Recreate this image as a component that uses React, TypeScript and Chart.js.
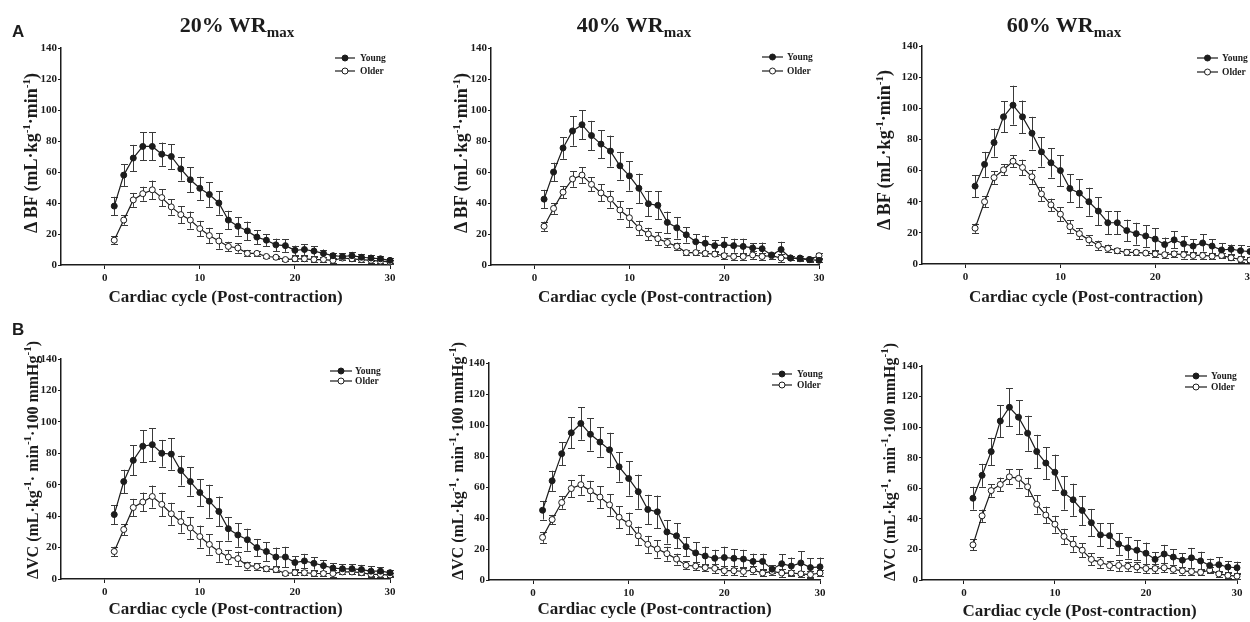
import React, { useEffect, useRef } from "react";
import { Chart, registerables } from "chart.js";

Chart.register(...registerables);

const SERIF = "'Liberation Serif', 'Times New Roman', 'DejaVu Serif', serif";
const SANS = "'Liberation Sans', Arial, 'DejaVu Sans', sans-serif";
const INK = "#1c1c1c";
const ERR_INK = "#3a3a3a";

// ---------------- data ----------------
const cycles = [1, 2, 3, 4, 5, 6, 7, 8, 9, 10, 11, 12, 13, 14, 15, 16, 17, 18, 19, 20, 21, 22, 23, 24, 25, 26, 27, 28, 29, 30];
const xTickValues = [0, 10, 20, 30];
const yTickValues = [0, 20, 40, 60, 80, 100, 120, 140];
const seriesLabels = ["Young", "Older"];
const intensityLabels = ["20%", "40%", "60%"];
const panelLetters = ["A", "B"];
const xAxisTitle = "Cardiac cycle (Post-contraction)";

// Row A: Δ blood flow
const bf20Young = [38, 58, 69, 76.5, 76.5, 71.5, 70, 62, 55, 49.5, 45.5, 40, 29, 25, 22, 18, 16, 13, 12.5, 9.5, 10, 9, 7.5, 6, 5.5, 6, 5, 4.5, 4, 3];
const bf20YoungErr = [6, 7, 8.5, 9, 9, 7.5, 8, 7.5, 8, 7.5, 8, 7.5, 6, 6, 6, 4.5, 4, 4, 4, 3, 3.5, 3, 2.5, 2, 2, 2.5, 2, 2, 1.5, 1.5];
const bf20Older = [16, 29, 42, 46, 48.5, 43.5, 37.5, 32.5, 29, 23.5, 19, 15.5, 12, 11, 7.5, 7.5, 5.5, 5, 3.5, 4, 4, 3.5, 3.5, 3, 4.5, 4, 3.5, 3, 2.5, 2];
const bf20OlderErr = [2.5, 3, 4.5, 4.5, 6, 5.5, 5, 5.5, 5.5, 5, 5, 5, 3, 3, 2, 1.5, 1, 1, 1, 1.5, 1.5, 1.5, 1.5, 1.5, 1.5, 1.5, 1.5, 1.5, 1.5, 1.5];

const bf40Young = [42.5, 60, 75.5, 86.5, 90.5, 83.5, 78, 73.5, 64, 57.5, 49.5, 39.5, 38.5, 27.5, 24, 19.5, 15, 14, 12.5, 13, 12.5, 12, 11, 10.5, 6.5, 10, 4.5, 4.5, 3.5, 3];
const bf40YoungErr = [6, 6, 7, 9.5, 9.5, 9.5, 9, 10, 9, 9.5, 9.5, 8, 9, 7, 7, 5, 5, 5, 3.5, 5, 4.5, 5, 3, 4, 1, 5, 1.5, 1.5, 1, 1];
const bf40Older = [25, 36.5, 47, 55.5, 58, 52, 46.5, 42.5, 35.5, 30.5, 24, 20, 17, 14.5, 12, 8, 8, 7.5, 7, 6, 5.5, 5.5, 6.5, 5.5, 6, 4.5, 4.5, 4, 3.5, 6];
const bf40OlderErr = [3, 3.5, 4, 5, 5, 4.5, 5.5, 5.5, 5.5, 6, 4.5, 4, 4, 3, 2.5, 1.5, 1.5, 1.5, 1.5, 2, 2, 2, 2.5, 2.5, 2, 2.5, 1.5, 1.5, 1.5, 1.5];

const bf60Young = [50, 64, 78, 94.5, 102, 94.5, 84, 72, 65, 60, 48.5, 45.5, 40, 34, 26.5, 26.5, 21.5, 19.5, 18, 16, 12.5, 15.5, 13, 11.5, 13.5, 11.5, 9, 9.5, 8.5, 8];
const bf60YoungErr = [7, 8, 9, 10, 12.5, 10.5, 10.5, 9.5, 9.5, 10, 9, 9, 9, 9, 7.5, 7.5, 7, 7, 7, 7, 4.5, 5.5, 5, 4.5, 5.5, 4.5, 4.5, 3, 3.5, 3.5];
const bf60Older = [23, 40, 55.5, 60.5, 66, 62, 56, 45, 38, 32, 24, 19.5, 15.5, 12, 10, 8.5, 7.5, 7.5, 7, 6.5, 6, 6.5, 6, 5.5, 5.5, 5, 5.5, 4, 3, 2.5];
const bf60OlderErr = [3, 3.5, 4, 3.5, 4, 5, 4.5, 4.5, 4, 4.5, 4, 3.5, 3, 3, 2.5, 1.5, 2, 1.5, 1.5, 2, 2, 2, 2.5, 2, 2, 1.5, 1.5, 1.5, 1.5, 1.5];

// Row B: Δ vascular conductance
const vc20Young = [41, 62, 75.5, 84.5, 85.5, 80, 79.5, 69, 62, 55, 49.5, 43, 32, 28, 25, 20, 17.5, 14, 14, 10.5, 11.5, 10, 8.5, 7, 6.5, 6.5, 6, 5, 5, 4];
const vc20YoungErr = [6, 7.5, 9.5, 10, 10.5, 8.5, 10, 9.5, 9, 8.5, 10.5, 9.5, 7.5, 7.5, 7, 5.5, 6, 6, 6.5, 4, 4.5, 4, 3.5, 3, 3, 3, 3, 3, 2.5, 2];
const vc20Older = [17.5, 31.5, 45.5, 49, 52.5, 47.5, 41.5, 36.5, 32.5, 27, 22, 17.5, 14, 13, 8.5, 8, 6.5, 6, 3.5, 4, 4, 3.5, 3.5, 3.5, 4.5, 4.5, 4, 3, 3, 2.5];
const vc20OlderErr = [3, 3.5, 5.5, 6, 7, 7.5, 7, 7, 7, 7, 6.5, 6.5, 4.5, 4.5, 2.5, 2, 1.5, 1.5, 1, 1.5, 1.5, 1.5, 1.5, 2, 1.5, 1.5, 1.5, 1.5, 1.5, 1.5];

const vc40Young = [45, 64, 81.5, 95, 101, 94, 89, 84, 73, 65.5, 57, 45.5, 44, 31, 28.5, 21.5, 17.5, 15.5, 14, 14.5, 14, 13.5, 12, 12, 7, 10.5, 9, 11, 8, 8.5];
const vc40YoungErr = [6, 6.5, 7.5, 10, 10.5, 10.5, 9.5, 11, 9.5, 11, 11, 9.5, 10.5, 7.5, 8, 6, 7, 6, 5.5, 7, 6, 6, 5, 5, 2.5, 6, 5.5, 7.5, 6, 6];
const vc40Older = [27.5, 39, 50, 59, 61.5, 57.5, 53.5, 48.5, 40.5, 36.5, 28.5, 23, 20, 17, 13.5, 9.5, 9, 8, 7.5, 6, 6, 5.5, 6.5, 4.5, 5.5, 4.5, 4.5, 4, 3.5, 4.5];
const vc40OlderErr = [3.5, 3, 4, 5.5, 6.5, 6.5, 7, 7, 7, 7, 6, 5.5, 5.5, 4.5, 3.5, 2.5, 2.5, 2.5, 3, 3, 3, 3, 2.5, 2, 2, 2.5, 2, 2, 2, 2];

const vc60Young = [53.5, 68.5, 84, 104, 113, 106.5, 96, 84, 76.5, 70.5, 57, 52.5, 45.5, 37.5, 29.5, 29, 23.5, 21, 19.5, 17.5, 13.5, 17, 15, 13, 14.5, 12.5, 9.5, 10, 8.5, 8];
const vc60YoungErr = [7.5, 7.5, 9, 10.5, 12.5, 11, 11.5, 11, 10.5, 11.5, 11, 10.5, 9.5, 9, 7.5, 8, 7, 7, 6.5, 7, 4.5, 6, 5, 4.5, 6.5, 6, 4.5, 5, 4, 4];
const vc60Older = [23, 42, 58.5, 62.5, 67.5, 66.5, 61, 49.5, 42.5, 36.5, 28.5, 23.5, 19.5, 13.5, 11.5, 9.5, 9.5, 9, 8.5, 7.5, 7.5, 8, 7, 6, 5.5, 5, 6.5, 4, 3, 2.5];
const vc60OlderErr = [3.5, 4, 4, 4.5, 5, 6, 6, 6, 5.5, 5.5, 5, 5, 4.5, 4, 3.5, 3, 3.5, 3, 3, 3, 3, 3, 2.5, 2.5, 2.5, 2, 2, 2, 2, 2];

// ---------------- layout ----------------
type Box = { l: number; t: number; r: number; b: number };
type LegendPos = { x1: number; x2: number; tx: number; y1: number; y2: number };
type PanelSpec = {
  young: number[];
  youngErr: number[];
  older: number[];
  olderErr: number[];
  area: Box;
  legend: LegendPos;
  titleGap: number;
};

const Y_W = 46;
const X_H = 48;
const PAD_T = 10;
const PAD_R = 16;
const X_MIN = -4.6;

const panels: PanelSpec[] = [
  { young: bf20Young, youngErr: bf20YoungErr, older: bf20Older, olderErr: bf20OlderErr,
    area: { l: 61, t: 48, r: 390, b: 265 }, legend: { x1: 55, x2: 35, tx: 30, y1: 10, y2: 23 }, titleGap: 33 },
  { young: bf40Young, youngErr: bf40YoungErr, older: bf40Older, olderErr: bf40OlderErr,
    area: { l: 491, t: 48, r: 819, b: 265 }, legend: { x1: 57, x2: 36, tx: 32, y1: 9, y2: 23 }, titleGap: 33 },
  { young: bf60Young, youngErr: bf60YoungErr, older: bf60Older, olderErr: bf60OlderErr,
    area: { l: 922, t: 46, r: 1250, b: 264 }, legend: { x1: 53, x2: 32, tx: 28, y1: 12, y2: 26 }, titleGap: 34 },
  { young: vc20Young, youngErr: vc20YoungErr, older: vc20Older, olderErr: vc20OlderErr,
    area: { l: 61, t: 359, r: 390, b: 579 }, legend: { x1: 60, x2: 38, tx: 35, y1: 12, y2: 22 }, titleGap: 31 },
  { young: vc40Young, youngErr: vc40YoungErr, older: vc40Older, olderErr: vc40OlderErr,
    area: { l: 489, t: 363, r: 820, b: 580 }, legend: { x1: 48, x2: 28, tx: 23, y1: 11, y2: 22 }, titleGap: 30 },
  { young: vc60Young, youngErr: vc60YoungErr, older: vc60Older, olderErr: vc60OlderErr,
    area: { l: 922, t: 366, r: 1237, b: 580 }, legend: { x1: 52, x2: 30, tx: 26, y1: 10, y2: 21 }, titleGap: 32 },
];

const titleCenters = [237, 634, 1064];
const yTitleCenters = [
  { x: 31, y: 153 }, { x: 461, y: 153 }, { x: 884, y: 150 },
  { x: 33, y: 460 }, { x: 458, y: 461 }, { x: 890, y: 462 },
];

function ChartPanel({ spec }: { spec: PanelSpec }) {
  const ref = useRef<HTMLCanvasElement | null>(null);
  const { area } = spec;
  const width = area.r - area.l + Y_W + PAD_R;
  const height = area.b - area.t + PAD_T + X_H;

  useEffect(() => {
    const canvas = ref.current;
    if (!canvas) return;
    const tickFont = { family: SERIF, size: 11, weight: "bold" as const };

    const errorBars = {
      id: "errorBars",
      beforeDatasetsDraw(chart: any) {
        const { ctx, scales } = chart;
        const xs = scales.x;
        const ys = scales.y;
        ctx.save();
        ctx.strokeStyle = ERR_INK;
        ctx.lineWidth = 1;
        chart.data.datasets.forEach((ds: any) => {
          ds.data.forEach((p: any, j: number) => {
            const e = ds.errors[j];
            const px = Math.round(xs.getPixelForValue(p.x)) + 0.5;
            const top = ys.getPixelForValue(p.y + e);
            const bot = ys.getPixelForValue(p.y - e);
            ctx.beginPath();
            ctx.moveTo(px, top);
            ctx.lineTo(px, bot);
            ctx.moveTo(px - 3.5, Math.round(top) + 0.5);
            ctx.lineTo(px + 3.5, Math.round(top) + 0.5);
            ctx.moveTo(px - 3.5, Math.round(bot) + 0.5);
            ctx.lineTo(px + 3.5, Math.round(bot) + 0.5);
            ctx.stroke();
          });
        });
        ctx.restore();
      },
    };

    const insetLegend = {
      id: "insetLegend",
      afterDraw(chart: any) {
        const { ctx, chartArea } = chart;
        const lg = spec.legend;
        const ys = [lg.y1, lg.y2];
        chart.data.datasets.forEach((ds: any, i: number) => {
          const y = chartArea.top + ys[i];
          const x1 = chartArea.right - lg.x1;
          const x2 = chartArea.right - lg.x2;
          ctx.save();
          ctx.strokeStyle = INK;
          ctx.lineWidth = 1.2;
          ctx.beginPath();
          ctx.moveTo(x1, y);
          ctx.lineTo(x2, y);
          ctx.stroke();
          ctx.beginPath();
          ctx.arc((x1 + x2) / 2, y, 3, 0, Math.PI * 2);
          ctx.fillStyle = ds.pointBackgroundColor;
          ctx.fill();
          ctx.lineWidth = 1;
          ctx.stroke();
          ctx.fillStyle = INK;
          ctx.font = `bold 9.5px ${SERIF}`;
          ctx.textBaseline = "middle";
          ctx.textAlign = "left";
          ctx.fillText(ds.label, chartArea.right - lg.tx, y + 0.5);
          ctx.restore();
        });
      },
    };

    const chart = new Chart(canvas, {
      type: "line",
      data: {
        datasets: [
          {
            label: seriesLabels[0],
            data: cycles.map((c, i) => ({ x: c, y: spec.young[i] })),
            errors: spec.youngErr,
            borderColor: INK,
            borderWidth: 1.2,
            pointRadius: 3,
            pointBackgroundColor: INK,
            pointBorderColor: INK,
            pointBorderWidth: 1,
            tension: 0,
            clip: false,
          } as any,
          {
            label: seriesLabels[1],
            data: cycles.map((c, i) => ({ x: c, y: spec.older[i] })),
            errors: spec.olderErr,
            borderColor: INK,
            borderWidth: 1.2,
            pointRadius: 3,
            pointBackgroundColor: "#ffffff",
            pointBorderColor: INK,
            pointBorderWidth: 1,
            tension: 0,
            clip: false,
          } as any,
        ],
      },
      options: {
        responsive: false,
        animation: false,
        devicePixelRatio: 1,
        events: [],
        layout: { padding: { top: PAD_T, right: PAD_R, left: 0, bottom: 0 } },
        plugins: {
          legend: { display: false },
          tooltip: { enabled: false },
          title: { display: false },
        },
        scales: {
          x: {
            type: "linear",
            min: X_MIN,
            max: 30,
            afterBuildTicks: (s: any) => {
              s.ticks = xTickValues.map((v) => ({ value: v }));
            },
            afterFit: (s: any) => {
              s.height = X_H;
              s.paddingLeft = 0;
              s.paddingRight = 0;
            },
            grid: { display: true, drawOnChartArea: false, drawTicks: true, tickLength: 4, color: INK, lineWidth: 1 },
            border: { display: true, color: INK, width: 1.5 },
            ticks: { font: tickFont, color: INK, padding: 3, maxRotation: 0, autoSkip: false },
            title: {
              display: true,
              text: xAxisTitle,
              font: { family: SERIF, size: 17, weight: "bold" },
              color: INK,
              padding: { top: 0, bottom: X_H - spec.titleGap - 10.2 },
            },
          },
          y: {
            type: "linear",
            min: 0,
            max: 140,
            afterBuildTicks: (s: any) => {
              s.ticks = yTickValues.map((v) => ({ value: v }));
            },
            afterFit: (s: any) => {
              s.width = Y_W;
              s.paddingTop = 0;
              s.paddingBottom = 0;
            },
            grid: { display: true, drawOnChartArea: false, drawTicks: true, tickLength: 3, color: INK, lineWidth: 1 },
            border: { display: true, color: INK, width: 1.5 },
            ticks: { font: tickFont, color: INK, padding: 1, autoSkip: false },
          },
        },
      },
      plugins: [errorBars, insetLegend],
    } as any);
    return () => chart.destroy();
  }, [spec]);

  return (
    <canvas
      ref={ref}
      width={width}
      height={height}
      style={{ position: "absolute", left: area.l - Y_W, top: area.t - PAD_T, width, height }}
    />
  );
}

const supStyle: React.CSSProperties = { fontSize: "11px", verticalAlign: "7px", lineHeight: 0 };

function YTitle({ kind, cx, cy }: { kind: "BF" | "VC"; cx: number; cy: number }) {
  const base: React.CSSProperties = {
    position: "absolute",
    left: cx,
    top: cy,
    transform: "translate(-50%, -50%) rotate(-90deg)",
    whiteSpace: "nowrap",
    fontFamily: SERIF,
    fontWeight: "bold",
    fontSize: kind === "BF" ? "18px" : "16px",
    lineHeight: 1,
    color: INK,
  };
  if (kind === "BF") {
    return (
      <div style={base}>
        Δ BF (mL·kg<sup style={supStyle}>-1</sup>·min<sup style={supStyle}>-1</sup>)
      </div>
    );
  }
  return (
    <div style={base}>
      ΔVC (mL·kg<sup style={supStyle}>-1</sup>· min<sup style={supStyle}>-1</sup>·100 mmHg<sup style={supStyle}>-1</sup>)
    </div>
  );
}

export default function App() {
  return (
    <div
      style={{
        position: "fixed",
        left: 0,
        top: 0,
        width: 1250,
        height: 622,
        overflow: "hidden",
        background: "#ffffff",
      }}
    >
      {panels.map((p, i) => (
        <ChartPanel key={i} spec={p} />
      ))}
      {intensityLabels.map((lab, i) => (
        <div
          key={lab}
          style={{
            position: "absolute",
            left: titleCenters[i],
            top: 12,
            transform: "translateX(-50%)",
            whiteSpace: "nowrap",
            fontFamily: SERIF,
            fontWeight: "bold",
            fontSize: "22px",
            color: INK,
          }}
        >
          {lab} WR
          <sub style={{ fontSize: "15px", verticalAlign: "-5px", lineHeight: 0 }}>max</sub>
        </div>
      ))}
      {yTitleCenters.map((c, i) => (
        <YTitle key={i} kind={i < 3 ? "BF" : "VC"} cx={c.x} cy={c.y} />
      ))}
      <div style={{ position: "absolute", left: 12, top: 22, fontFamily: SANS, fontWeight: "bold", fontSize: "17px", color: INK }}>
        {panelLetters[0]}
      </div>
      <div style={{ position: "absolute", left: 12, top: 320, fontFamily: SANS, fontWeight: "bold", fontSize: "17px", color: INK }}>
        {panelLetters[1]}
      </div>
    </div>
  );
}
